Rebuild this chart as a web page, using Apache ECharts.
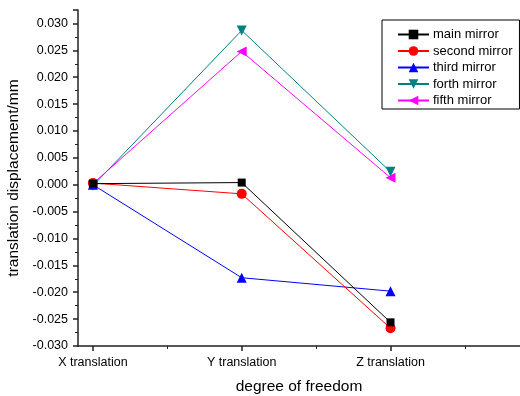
<!DOCTYPE html>
<html><head><meta charset="utf-8">
<script src="https://cdn.jsdelivr.net/npm/echarts@6/dist/echarts.min.js"></script>
<style>html,body{margin:0;padding:0;background:#fff}#c{width:520px;height:396px}</style>
</head><body><div id="c"></div>
<script>
var categories = ['X translation', 'Y translation', 'Z translation'];
var seriesNames = ['main mirror', 'second mirror', 'third mirror', 'forth mirror', 'fifth mirror'];
var mainMirror = [0.0002, 0.0004, -0.0256];
var secondMirror = [0.0003, -0.0017, -0.0267];
var thirdMirror = [0.0000, -0.0173, -0.0198];
var forthMirror = [-0.0002, 0.0287, 0.0024];
var fifthMirror = [0.0002, 0.0248, 0.0013];
var yTicks = [-0.030, -0.025, -0.020, -0.015, -0.010, -0.005, 0.000, 0.005, 0.010, 0.015, 0.020, 0.025, 0.030];

var colors = ['#000000', '#ff0000', '#0000ff', '#008080', '#ff00ff'];
var symbols = ['rect', 'circle', 'triangle', 'path://M0,0 L10,0 L5,9 Z', 'path://M0,5 L9,0 L9,10 Z'];
var sizes = [8, 10, 10, 10, 10];
var allData = [mainMirror, secondMirror, thirdMirror, forthMirror, fifthMirror];
var font = 'Liberation Sans, Arial, sans-serif';

var chart = echarts.init(document.getElementById('c'));
var series = allData.map(function (d, i) {
  return {
    name: seriesNames[i], type: 'line',
    data: d.map(function (v, j) { return [j + 1, v]; }),
    symbol: symbols[i], symbolSize: sizes[i], showAllSymbol: true,
    lineStyle: { width: 1, color: colors[i] },
    itemStyle: { color: colors[i] },
    z: 10 - i
  };
});
chart.setOption({
  animation: false,
  grid: { left: 78, right: 0, top: 10, bottom: 50, containLabel: false, outerBoundsMode: 'none' },
  legend: {
    orient: 'vertical', left: 382, top: 20,
    data: seriesNames,
    backgroundColor: '#fff', borderColor: '#000', borderWidth: 1,
    padding: [8, 7, 2, 15],
    itemWidth: 31, itemHeight: 12, itemGap: 3.5,
    textStyle: { fontFamily: font, fontSize: 13, color: '#000', padding: [0, 0, 0, -1] }
  },
  xAxis: [{
    type: 'value', min: 0.9, max: 3.87,
    name: 'degree of freedom', nameLocation: 'middle', nameGap: 33,
    nameTextStyle: { fontFamily: font, fontSize: 15.5, color: '#000' },
    splitLine: { show: false },
    axisLine: { show: true, onZero: false, lineStyle: { color: '#222', width: 1.5 } },
    axisTick: { show: true, customValues: [1, 2, 3], length: 5, lineStyle: { color: '#222', width: 1.5 } },
    axisLabel: {
      customValues: [1, 2, 3], margin: 10,
      fontFamily: font, fontSize: 12.5, color: '#000',
      formatter: function (v) { return categories[Math.round(v) - 1] || ''; }
    }
  }, {
    type: 'value', min: 0.9, max: 3.87, position: 'bottom',
    splitLine: { show: false },
    axisLine: { show: false, onZero: false },
    axisTick: { show: true, customValues: [1.5, 2.5, 3.5], length: 3, lineStyle: { color: '#222', width: 1 } },
    axisLabel: { show: false }
  }],
  yAxis: {
    type: 'value', min: -0.030, max: 0.0325, interval: 0.005,
    name: 'translation displacement/mm', nameLocation: 'middle', nameGap: 55,
    nameTextStyle: { fontFamily: font, fontSize: 15.5, color: '#000' },
    splitLine: { show: false },
    axisLine: { show: true, lineStyle: { color: '#222', width: 1.5 } },
    axisTick: { show: true, length: 5, lineStyle: { color: '#222', width: 1.5 } },
    minorTick: { show: true, splitNumber: 2, length: 3, lineStyle: { color: '#222', width: 1 } },
    axisLabel: {
      showMaxLabel: false, margin: 10,
      fontFamily: font, fontSize: 12.5, color: '#000',
      formatter: function (v) {
        var s = v.toFixed(3);
        return s === '-0.000' ? '0.000' : s;
      }
    }
  },
  series: series
});
</script></body></html>
